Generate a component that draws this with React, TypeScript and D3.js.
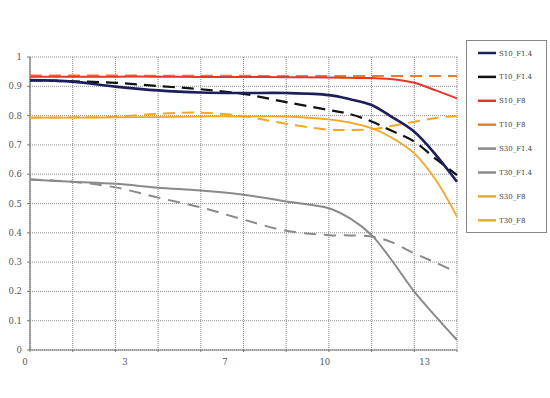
import React from "react";
import * as d3 from "d3";

const xs = [0, 1.41, 2.82, 4.23, 5.64, 7.05, 8.46, 9.87, 10.57, 11.28, 11.89, 12.69, 13.4, 14.1];

const s10F14 = [0.921, 0.916, 0.899, 0.886, 0.879, 0.877, 0.877, 0.87, 0.856, 0.836, 0.799, 0.745, 0.666, 0.574];
const t10F14 = [0.92, 0.917, 0.912, 0.901, 0.89, 0.874, 0.846, 0.819, 0.805, 0.78, 0.751, 0.711, 0.652, 0.597];
const s10F8 = [0.933, 0.933, 0.933, 0.933, 0.932, 0.932, 0.931, 0.93, 0.929, 0.928, 0.925, 0.912, 0.886, 0.859];
const t10F8 = [0.937, 0.937, 0.937, 0.936, 0.936, 0.936, 0.935, 0.935, 0.935, 0.935, 0.935, 0.935, 0.935, 0.935];
const s30F14 = [0.582, 0.574, 0.567, 0.554, 0.544, 0.53, 0.507, 0.484, 0.449, 0.392, 0.314, 0.199, 0.114, 0.034];
const t30F14 = [0.582, 0.574, 0.555, 0.52, 0.487, 0.445, 0.407, 0.392, 0.391, 0.387, 0.37, 0.33, 0.298, 0.265];
const s30F8 = [0.793, 0.793, 0.794, 0.795, 0.797, 0.797, 0.797, 0.787, 0.776, 0.757, 0.728, 0.671, 0.58, 0.455];
const t30F8 = [0.793, 0.794, 0.796, 0.806, 0.81, 0.798, 0.772, 0.752, 0.751, 0.753, 0.764, 0.779, 0.792, 0.799];

const seriesNames = ["S10_F1.4", "T10_F1.4", "S10_F8", "T10_F8", "S30_F1.4", "T30_F1.4", "S30_F8", "T30_F8"];
const seriesValues = [s10F14, t10F14, s10F8, t10F8, s30F14, t30F14, s30F8, t30F8];
const seriesColors = ["#1c1f5c", "#111111", "#e8352b", "#f07b2c", "#8a8a8a", "#8a8a8a", "#f5a623", "#f5a623"];
const seriesDash = [null, "12,7", null, "12,7", null, "12,8", null, "12,7"];
const seriesWidth = [2.6, 2.2, 2, 2, 2, 2, 1.8, 2];

const xTickValues = [0, 3.3, 6.6, 9.9, 13.2];
const xTickLabels = ["0", "3", "7", "10", "13"];
const yTicks = [0, 0.1, 0.2, 0.3, 0.4, 0.5, 0.6, 0.7, 0.8, 0.9, 1];

const W = 550;
const H = 398;
const left = 30;
const right = 457;
const top = 57;
const bottom = 350;

export default function App() {
  const x = d3.scaleLinear().domain([0, 14.1]).range([left, right]);
  const y = d3.scaleLinear().domain([0, 1]).range([bottom, top]);
  const vGrid = d3.range(0, 11).map((k) => (k * 14.1) / 10);
  const font = "'DejaVu Serif', 'Liberation Serif', serif";

  const drawOrder = [4, 5, 6, 7, 3, 2, 1, 0];

  return (
    <svg width={W} height={H} style={{ position: "absolute", left: 0, top: 0, background: "#fff" }}>
      <rect width={W} height={H} fill="#fff" />
      {yTicks.map((t) => (
        <line key={"h" + t} x1={left} x2={right} y1={y(t)} y2={y(t)} stroke="#8f8f8f" strokeWidth={1} strokeDasharray="1,1" />
      ))}
      {vGrid.map((v, i) => (
        <line key={"v" + i} x1={x(v)} x2={x(v)} y1={top} y2={bottom} stroke="#808080" strokeWidth={1} strokeDasharray="1,1" />
      ))}
      <line x1={left} x2={left} y1={top} y2={bottom} stroke="#777" strokeWidth={1.2} />
      <line x1={left} x2={right} y1={bottom} y2={bottom} stroke="#777" strokeWidth={1.2} />
      {yTicks.map((t) => (
        <line key={"yt" + t} x1={left - 3} x2={left} y1={y(t)} y2={y(t)} stroke="#777" />
      ))}
      {vGrid.map((v, i) => (
        <line key={"xt" + i} x1={x(v)} x2={x(v)} y1={bottom} y2={bottom + 2} stroke="#777" />
      ))}
      {yTicks.map((t) => (
        <text key={"yl" + t} x={22} y={y(t) + 3} textAnchor="end" fontSize={8.5} fontFamily={font} fill="#555">
          {d3.format("~g")(t)}
        </text>
      ))}
      {xTickValues.map((v, i) => (
        <text key={"xl" + i} x={x(v) - 5} y={365} textAnchor="middle" fontSize={8.5} fontFamily={font} fill="#555">
          {xTickLabels[i]}
        </text>
      ))}
      {drawOrder.map((si) => {
        const line = d3
          .line<number>()
          .x((_, i) => x(xs[i]))
          .y((d) => y(d))
          .curve(d3.curveCatmullRom.alpha(0.5));
        return (
          <path
            key={"s" + si}
            d={line(seriesValues[si]) || ""}
            fill="none"
            stroke={seriesColors[si]}
            strokeWidth={seriesWidth[si]}
            strokeDasharray={seriesDash[si] || undefined}
          />
        );
      })}
      <rect x={466.5} y={40.5} width={80} height={192} fill="#fff" stroke="#888" strokeWidth={1} />
      {seriesNames.map((n, i) => {
        const ly = 53 + i * 23.9;
        return (
          <g key={"lg" + i}>
            <line x1={478} x2={496} y1={ly} y2={ly} stroke={seriesColors[i]} strokeWidth={2.5} />
            <text x={499} y={ly + 2.5} fontSize={7} fontFamily={font} fill="#444">
              {n}
            </text>
          </g>
        );
      })}
    </svg>
  );
}
